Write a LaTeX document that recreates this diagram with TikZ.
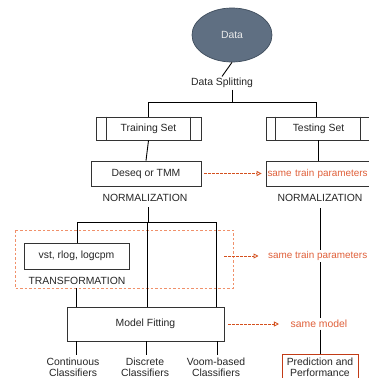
\documentclass[tikz,border=0pt]{standalone}
\usepackage{fontspec}
\setmainfont{Liberation Sans}
\usetikzlibrary{shapes.geometric,arrows.meta}
\definecolor{slate}{HTML}{5F6F82}
\definecolor{slateedge}{HTML}{3E4C5C}
\definecolor{redtxt}{HTML}{E0603A}
\definecolor{redarr}{HTML}{D4501E}
\definecolor{redbox}{HTML}{C23B16}
\definecolor{grp}{HTML}{F0906A}
\definecolor{txt}{HTML}{262626}
\tikzset{
  every node/.style={font=\fontsize{10.4}{11}\selectfont, text=txt},
  conn/.style={draw=black, line width=0.9pt},
  boxnode/.style={draw=black!80, line width=0.7pt, rectangle, inner sep=0pt},
  lbl/.style={inner sep=1pt},
  wlbl/.style={inner sep=1.5pt, fill=white},
  redlbl/.style={inner sep=1.5pt, fill=white, text=redtxt},
  redfont/.style={font=\fontsize{9.9}{11}\selectfont},
  redarrow/.style={draw=redarr, line width=0.8pt, dash pattern=on 2.5pt off 1.5pt, -{Triangle[open,length=5pt,width=5pt]}},
}
\begin{document}
\begin{tikzpicture}[x=1pt,y=-1pt]
\useasboundingbox (0,0) rectangle (369,378);
\fill[white] (0,0) rectangle (369,378);
% data
\node[ellipse, draw=slateedge, line width=0.7pt, fill=slate, minimum width=80pt, minimum height=54pt, text=white!92!black] (data) at (232,35) {Data};
\node[wlbl] (split) at (222,83) {Data Splitting};
\coordinate (j) at (232,102);
\coordinate (jl) at (148,102);
\coordinate (jr) at (316,102);
\draw[conn] (data.south) -- (split.north);
\draw[conn] (split.south -| j) -- (j);
\draw[conn] (jl) -- (jr);
% train / test
\node[boxnode, minimum width=105pt, minimum height=23pt] (train) at (148.5,128.5) {Training Set};
\draw[draw=black!80, line width=0.7pt] ([xshift=11pt]train.north west) -- ([xshift=11pt]train.south west);
\draw[draw=black!80, line width=0.7pt] ([xshift=-11pt]train.north east) -- ([xshift=-11pt]train.south east);
\node[boxnode, minimum width=105pt, minimum height=23pt] (test) at (318.5,128.5) {Testing Set};
\draw[draw=black!80, line width=0.7pt] ([xshift=10pt]test.north west) -- ([xshift=10pt]test.south west);
\draw[draw=black!80, line width=0.7pt] ([xshift=-11pt]test.north east) -- ([xshift=-11pt]test.south east);
\draw[conn] (jl) -- (jl |- train.north);
\draw[conn] (jr) -- (jr |- test.north);
% normalization
\node[boxnode, minimum width=110pt, minimum height=25pt] (deseq) at (146,173.5) {Deseq or TMM};
\node[boxnode, redfont, minimum width=110pt, minimum height=25pt, text width=107pt, inner xsep=1.5pt, align=left, text=redtxt] (tnorm) at (321,173.5) {same train parameters};
\draw[conn] (test.south) -- (test.south |- tnorm.north);
\draw[conn] (train.south) -- (deseq.north);
\draw[redarrow] ([xshift=3pt]deseq.east) -- ([xshift=-4pt]tnorm.west);
\node[lbl] (nl) at (145,198) {NORMALIZATION};
\node[lbl] (nr) at (320,198) {NORMALIZATION};
% transformation group
\draw[draw=grp, line width=0.8pt, dash pattern=on 2.5pt off 2pt] (15,230) rectangle (233,288);
\node[boxnode, minimum width=105pt, minimum height=26pt] (vst) at (76.5,256) {vst, rlog, logcpm};
\node[lbl] (trans) at (77,281) {TRANSFORMATION};
\coordinate (t0) at (148,207);
\coordinate (t1) at (148,222);
\coordinate (ta) at (77,222);
\coordinate (tb) at (147,222);
\coordinate (tc) at (216,222);
\draw[conn] (t0) -- (t1);
\draw[conn] (ta) -- (tc);
% model fitting
\node[boxnode, minimum width=157pt, minimum height=34pt] (model) at (145.5,324) {Model Fitting};
\draw[conn] (ta) -- (ta |- vst.north);
\draw[conn] (tb) -- (tb |- model.north);
\draw[conn] (tc) -- (tc |- model.north);
\coordinate (tr0) at (76,288);
\draw[conn] (tr0) -- (tr0 |- model.north);
\node[redlbl, redfont, anchor=west] (same2) at (266.5,256) {same train parameters};
\coordinate (a2s) at (224,256);
\draw[redarrow] (a2s) -- ([xshift=-8pt]same2.west);
\node[redlbl] (same3) at (319,324) {same model};
\draw[redarrow] ([xshift=4pt]model.east) -- ([xshift=-10pt]same3.west);
% classifiers
\node[lbl, align=center] (c1) at (73,367.5) {Continuous\\Classifiers};
\node[lbl, align=center] (c2) at (145,367.5) {Discrete\\Classifiers};
\node[lbl, align=center] (c3) at (216,367.5) {Voom-based\\Classifiers};
\draw[conn] (model.south -| 76,0) -- (76,355);
\draw[conn] (model.south -| 146,0) -- (146,355);
\draw[conn] (model.south -| 217,0) -- (217,355);
% prediction
\node[draw=redbox, line width=1pt, minimum width=76pt, minimum height=31pt, align=center, inner sep=0pt, text depth=6pt, anchor=north] (pred) at (320,354) {Prediction and\\Performance};
\coordinate (r0) at (320,208);
\draw[conn] (r0) -- (same2.north -| r0);
\draw[conn] (same2.south -| r0) -- (same3.north -| r0);
\draw[conn] (same3.south -| r0) -- (pred.north -| r0);
\end{tikzpicture}
\end{document}
